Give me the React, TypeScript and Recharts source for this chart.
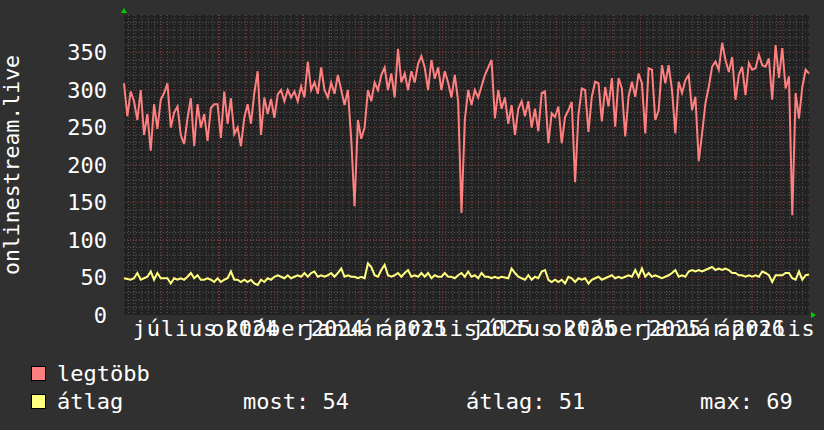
import { LineChart, Line, XAxis, YAxis, CartesianGrid } from "recharts";

const DAY = 86400000;
const START = Date.UTC(2024, 4, 22);
const END = Date.UTC(2026, 5, 1);

// legtöbb (max) series, evenly spaced from START to END
const legtobb = [
  309, 265, 298, 285, 260, 300, 240, 268, 219, 281,
  248, 287, 296, 309, 250, 270, 278, 240, 228, 262,
  289, 225, 281, 250, 268, 232, 276, 281, 281, 236,
  298, 255, 289, 241, 250, 225, 263, 281, 255, 296,
  325, 240, 290, 268, 288, 263, 294, 300, 285, 300,
  290, 298, 285, 305, 290, 338, 300, 310, 295, 330,
  300, 290, 310, 295, 320, 300, 280, 300, 235, 145,
  260, 235, 250, 300, 285, 310, 300, 320, 330, 300,
  322, 290, 355, 310, 322, 300, 325, 310, 335, 345,
  330, 300, 340, 315, 330, 300, 325, 310, 290, 320,
  285, 136, 260, 300, 280, 300, 290, 305, 320, 330,
  340, 262, 300, 275, 290, 255, 280, 240, 275, 285,
  265, 285, 250, 275, 245, 296, 298, 229, 269, 264,
  278, 229, 264, 273, 284, 177, 267, 302, 300, 244,
  291, 311, 309, 258, 304, 278, 316, 251, 316, 302,
  238, 291, 311, 291, 322, 309, 242, 329, 327, 260,
  273, 333, 309, 333, 300, 242, 311, 296, 313, 320,
  273, 291, 205, 242, 282, 304, 331, 338, 327, 363,
  340, 324, 344, 287, 320, 331, 293, 336, 327, 329,
  347, 333, 331, 342, 287, 360, 316, 356, 302, 318,
  133, 296, 262, 304, 327, 322,
];

// átlag (average) series
const atlag = [
  49, 48, 47, 49, 56, 47, 49, 51, 58, 47,
  56, 49, 49, 49, 42, 49, 47, 49, 47, 51,
  56, 49, 53, 47, 47, 49, 47, 44, 49, 44,
  47, 49, 58, 47, 47, 44, 47, 44, 47, 42,
  40, 47, 44, 49, 47, 51, 53, 51, 49, 53,
  49, 51, 53, 51, 56, 51, 56, 58, 51, 53,
  51, 53, 56, 51, 56, 62, 51, 53, 51, 51,
  49, 51, 49, 69, 64, 53, 51, 60, 67, 53,
  51, 53, 56, 51, 56, 60, 51, 53, 51, 56,
  51, 56, 49, 53, 51, 51, 56, 51, 51, 49,
  53, 56, 51, 58, 51, 53, 49, 56, 51, 51,
  49, 51, 49, 51, 50, 49, 62, 56, 51, 49,
  47, 53, 47, 51, 49, 58, 60, 47, 44, 47,
  44, 47, 42, 51, 49, 44, 49, 47, 49, 42,
  47, 49, 51, 47, 49, 51, 53, 49, 51, 49,
  51, 53, 51, 60, 51, 62, 51, 56, 51, 53,
  51, 49, 51, 53, 56, 60, 51, 53, 51, 58,
  60, 58, 60, 58, 60, 62, 64, 60, 62, 60,
  62, 60, 56, 56, 53, 53, 51, 53, 51, 53,
  51, 58, 56, 53, 44, 53, 53, 53, 56, 56,
  49, 47, 58, 47, 53, 54,
];

const monthNames = ["július", "október", "január", "április", "július", "október", "január", "április"];
const monthDates: [number, number][] = [
  [2024, 6], [2024, 9], [2025, 0], [2025, 3], [2025, 6], [2025, 9], [2026, 0], [2026, 3],
];
const yearNames = ["", "2024", "2024", "2025", "2025", "2025", "2025", "2026"];
const yTicks = [0, 50, 100, 150, 200, 250, 300, 350];
const legendStats = [
  { label: "most: 54", x: 243 },
  { label: "átlag: 51", x: 466 },
  { label: "max: 69", x: 700 },
];

const data = legtobb.map((v, i) => ({
  t: START + (i * (END - START)) / (legtobb.length - 1),
  legtobb: v,
  atlag: atlag[i],
}));

const labelTicks = monthDates.map(([y, m]) => Date.UTC(y, m, 16));

const monthStarts: number[] = [];
for (let y = 2024, m = 5; Date.UTC(y, m, 1) < END; m++) {
  if (m > 11) { m = 0; y++; }
  monthStarts.push(Date.UTC(y, m, 1));
}
const weekStarts: number[] = [];
for (let t = Date.UTC(2024, 4, 27); t < END; t += 7 * DAY) weekStarts.push(t);

const minorY: number[] = [];
for (let v = 10; v < 400; v += 10) minorY.push(v);
const majorY = yTicks.filter((v) => v > 0);

const FONT = "'DejaVu Sans Mono', monospace";

function MonthTick({ x, y, index }: { x: number; y: number; index: number }) {
  return (
    <g>
      <text x={x} y={y} dy={21} textAnchor="middle" fill="#fff" fontFamily={FONT}
        fontSize={22} letterSpacing={0.8}>
        {monthNames[index]}
      </text>
      <text x={x - 8} y={y} dy={21} textAnchor="middle" fill="#fff" fontFamily={FONT} fontSize={22}>
        {yearNames[index]}
      </text>
    </g>
  );
}

export default function App() {
  return (
    <div style={{ position: "relative", width: 824, height: 430, background: "#303030" }}>
      <style>{"body{margin:0}"}</style>
      <LineChart
        width={824}
        height={430}
        data={data}
        margin={{ top: 15, right: 15, bottom: 85, left: 64 }}
      >
        <CartesianGrid
          fill="#222222"
          stroke="#555555"
          strokeDasharray="1 2"
          horizontalValues={minorY}
          verticalValues={weekStarts}
        />
        <CartesianGrid
          stroke="#8a3434"
          strokeDasharray="1 2"
          horizontalValues={majorY}
          verticalValues={monthStarts}
        />
        <XAxis
          dataKey="t"
          type="number"
          domain={[START, END]}
          ticks={labelTicks}
          interval={0}
          height={30}
          axisLine={false}
          tickLine={false}
          tickSize={0}
          tickMargin={0}
          tick={(p: any) => <MonthTick {...p} />}
        />
        <YAxis
          domain={[0, 400]}
          ticks={yTicks}
          interval={0}
          width={60}
          axisLine={false}
          tickLine={false}
          tickSize={0}
          tickMargin={17}
          tick={{ fill: "#fff", fontSize: 22, fontFamily: FONT }}
        />
        <Line
          dataKey="legtobb"
          type="linear"
          stroke="#ff8080"
          strokeWidth={2}
          dot={false}
          isAnimationActive={false}
        />
        <Line
          dataKey="atlag"
          type="linear"
          stroke="#ffff80"
          strokeWidth={2}
          dot={false}
          isAnimationActive={false}
        />
      </LineChart>
      <svg
        width={824}
        height={430}
        style={{ position: "absolute", left: 0, top: 0, pointerEvents: "none" }}
      >
        <text
          x={19}
          y={165}
          transform="rotate(-90 19 165)"
          textAnchor="middle"
          fill="#fff"
          fontFamily={FONT}
          fontSize={21.5}
        >
          onlinestream.live
        </text>
        <polygon points="121,13 127,13 124,8" fill="#00cc00" />
        <polygon points="811,312 811,318 816,315" fill="#00cc00" />
        <rect x={31.5} y={366.5} width={14} height={14} fill="#ff8080" stroke="#000" />
        <rect x={31.5} y={394.5} width={14} height={14} fill="#ffff80" stroke="#000" />
        <text x={57} y={381} fill="#fff" fontFamily={FONT} fontSize={22}>legtöbb</text>
        <text x={57} y={409} fill="#fff" fontFamily={FONT} fontSize={22}>átlag</text>
        {legendStats.map((s) => (
          <text key={s.label} x={s.x} y={409} fill="#fff" fontFamily={FONT} fontSize={22}>
            {s.label}
          </text>
        ))}
      </svg>
    </div>
  );
}
